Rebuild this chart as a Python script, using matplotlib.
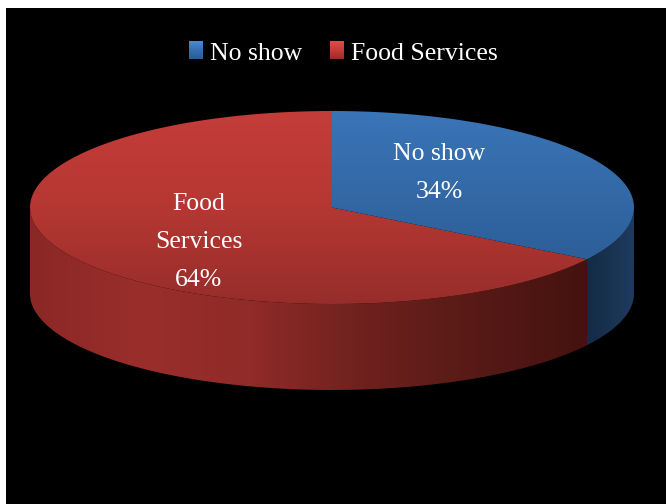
import numpy as np
import matplotlib
matplotlib.use("Agg")
import matplotlib.pyplot as plt
from matplotlib.colors import LinearSegmentedColormap
from matplotlib.patches import PathPatch, Rectangle
from matplotlib.path import Path

labels = ["No show", "Food Services"]
pie_labels = ["No show\n34%", "Food\nServices\n64%"]
values = [34, 64]

W, H = 666, 504
cx, cy, rx, ry, depth = 332, 207.5, 302, 96.5, 86

plt.rcParams["font.family"] = ["Liberation Serif", "DejaVu Serif"]


def arc(a0, a1, dy=0, n=120):
    t = np.radians(np.linspace(a0, a1, n))
    return np.column_stack([cx + rx * np.cos(t), cy - ry * np.sin(t) + dy])


def shade(ax, path, colors, vertical=True, zorder=2):
    # gradient image clipped to a path
    cmap = LinearSegmentedColormap.from_list("g", colors)
    patch = PathPatch(path, fc="none", ec="none", transform=ax.transData)
    ax.add_patch(patch)
    v = path.vertices
    grad = np.linspace(0, 1, 256)
    grad = grad[:, None] if vertical else grad[None, :]
    im = ax.imshow(grad, cmap=cmap, aspect="auto", zorder=zorder, interpolation="bilinear",
                   extent=(v[:, 0].min(), v[:, 0].max(), v[:, 1].max(), v[:, 1].min()))
    im.set_clip_path(patch)
    return im


fig = plt.figure(figsize=(W / 100, H / 100), dpi=100, facecolor="white")
ax = fig.add_axes([0, 0, 1, 1])
ax.set_xlim(0, W)
ax.set_ylim(H, 0)
ax.axis("off")
ax.add_patch(Rectangle((6, 8), W - 6, H - 8, fc="black", ec="none", zorder=0))

# slice boundary: blue runs clockwise from 12 o'clock, red closes the disc
split = 90 - values[0] / 100 * 360

# side walls
blue_wall = np.vstack([arc(split, 0), arc(0, split, depth)])
red_wall = np.vstack([arc(180, 360 + split), arc(360 + split, 180, depth)])
shade(ax, Path(np.vstack([blue_wall, blue_wall[:1]])), ["#142a45", "#1f3b60"], vertical=False)
shade(ax, Path(np.vstack([red_wall, red_wall[:1]])),
      ["#8a2826", "#9a2e2b", "#8f2b28", "#6e211e", "#571a16", "#45120f"], vertical=False)

# top surface
blue_top = np.vstack([[[cx, cy]], arc(90, split), [[cx, cy]]])
red_top = np.vstack([[[cx, cy]], arc(split, -270), [[cx, cy]]])
shade(ax, Path(red_top), ["#c43d39", "#b53733", "#972d2a"], zorder=3)
shade(ax, Path(blue_top), ["#3a75b8", "#2d5f98"], zorder=3)
ax.set_xlim(0, W)
ax.set_ylim(H, 0)

# slice labels
ax.text(439, 173, pie_labels[0], color="white", fontsize=18.5, ha="center", va="center",
        linespacing=1.95, zorder=5)
ax.text(199, 242, pie_labels[1], color="white", fontsize=18.5, ha="center", va="center",
        linespacing=1.95, zorder=5)

# legend
legend_x = [189, 330]
legend_colors = [["#4a8ad0", "#3570b0", "#2a5c96"], ["#d85048", "#c43c38", "#9c2c2a"]]
for x, name, cols in zip(legend_x, labels, legend_colors):
    cmap = LinearSegmentedColormap.from_list("k", cols)
    ax.imshow(np.linspace(0, 1, 32)[:, None], cmap=cmap, aspect="auto", zorder=5,
              extent=(x, x + 14, 59, 41))
    ax.text(x + 21, 52, name, color="white", fontsize=18.5, ha="left", va="center_baseline", zorder=5)
ax.set_xlim(0, W)
ax.set_ylim(H, 0)

fig.savefig("out.png", dpi=100, facecolor="white")
